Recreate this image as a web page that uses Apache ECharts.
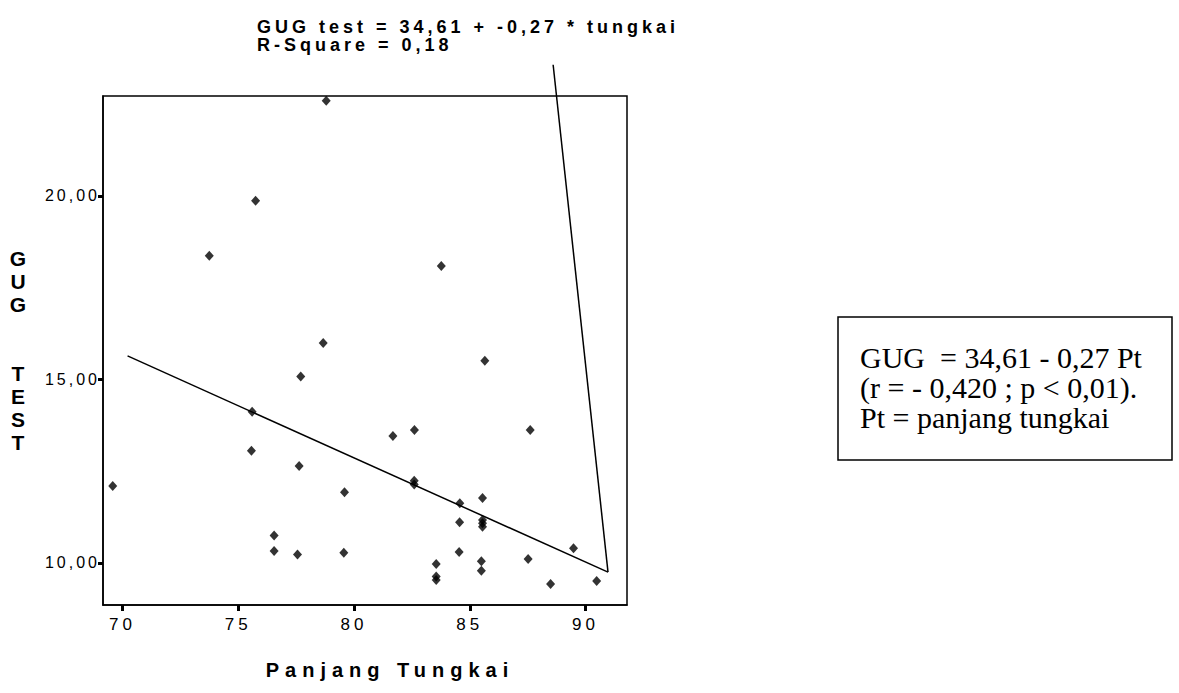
<!DOCTYPE html>
<html>
<head>
<meta charset="utf-8">
<script src="https://cdn.jsdelivr.net/npm/echarts@6/dist/echarts.min.js"></script>
<style>
  html, body { margin: 0; padding: 0; background: #fff; }
  #chart { width: 1179px; height: 693px; }
  #chart text[style*="Liberation Sans"][style*="18px"] { letter-spacing: 4px; }
  #chart text[style*="Liberation Sans"][style*="17px"] { letter-spacing: 4px; }
  #chart text[style*="Liberation Sans"][style*="16px"] { letter-spacing: 3px; }
  #chart text[style*="Liberation Sans"][style*="20px"] { letter-spacing: 6px; }
</style>
</head>
<body>
<div id="chart"></div>
<script>
// ---- data ----
const tungkai = [78.8, 75.75, 73.75, 78.67, 77.7, 83.77, 85.65, 75.6, 75.57, 77.63, 69.58, 79.59, 76.55, 76.55, 77.56, 79.56, 81.68, 82.61, 87.61, 82.6, 82.6, 84.57, 85.55, 84.56, 85.55, 85.55, 85.55, 84.54, 83.55, 83.55, 83.55, 85.5, 85.5, 87.52, 89.48, 88.49, 90.48];
const gugTest = [22.59, 19.87, 18.37, 15.99, 15.08, 18.09, 15.51, 14.12, 13.06, 12.64, 12.1, 11.93, 10.75, 10.33, 10.23, 10.28, 13.46, 13.62, 13.62, 12.24, 12.14, 11.63, 11.77, 11.11, 11.17, 11.08, 10.99, 10.3, 9.97, 9.63, 9.54, 10.05, 9.79, 10.11, 10.4, 9.43, 9.51];
const fitLineX = [70.22, 90.97];
const fitLineY = [15.64, 9.75];
const pointerX = [88.6, 90.97];
const pointerY = [23.57, 9.75];
const xTicks = [70, 75, 80, 85, 90];
const yTicks = [10, 15, 20];
const headerLines = ['GUG test = 34,61 + -0,27 * tungkai', 'R-Square = 0,18'];
const boxLines = ['GUG  = 34,61 - 0,27 Pt', '(r = - 0,420 ; p < 0,01).', 'Pt = panjang tungkai'];

const points = tungkai.map((x, i) => [x, gugTest[i]]);
const fitLine = fitLineX.map((x, i) => [x, fitLineY[i]]);
const pointer = pointerX.map((x, i) => [x, pointerY[i]]);

const SANS = 'Liberation Sans';
const SERIF = '30px "Liberation Serif"';
const chart = echarts.init(document.getElementById('chart'), null, { renderer: 'svg' });
chart.setOption({
  backgroundColor: '#fff',
  animation: false,
  title: {
    text: headerLines.join('\n'),
    left: 252, top: 13,
    textStyle: { fontFamily: SANS, fontSize: 18, fontWeight: 'bold', color: '#000', lineHeight: 18 }
  },
  grid: { left: 103, right: 552, top: 96, bottom: 88, show: true, borderColor: '#000', borderWidth: 1.5, backgroundColor: 'transparent' },
  xAxis: {
    type: 'value', min: 69.16, max: 91.79,
    name: 'Panjang Tungkai', nameLocation: 'middle', nameGap: 55,
    nameTextStyle: { fontFamily: SANS, fontSize: 20, fontWeight: 'bold', color: '#000', padding: [0, 0, 0, 50] },
    axisLine: { show: true, lineStyle: { color: '#000', width: 1.5 } },
    axisTick: { show: true, customValues: xTicks, length: 6, lineStyle: { color: '#000', width: 3 } },
    axisLabel: { customValues: xTicks, margin: 11, fontFamily: SANS, fontSize: 17, color: '#000', formatter: v => String(v) },
    splitLine: { show: false }
  },
  yAxis: {
    type: 'value', min: 8.856, max: 22.72,
    name: 'G\nU\nG\n\n\nT\nE\nS\nT', nameLocation: 'middle', nameRotate: 0, nameGap: 85,
    nameTextStyle: { fontFamily: SANS, fontSize: 21, fontWeight: 'bold', color: '#000', align: 'center', verticalAlign: 'middle', lineHeight: 23, padding: [41, 0, 0, 0] },
    axisLine: { show: true, lineStyle: { color: '#000', width: 1.5 } },
    axisTick: { show: true, customValues: yTicks, length: 5, lineStyle: { color: '#000', width: 3 } },
    axisLabel: { customValues: yTicks, margin: 3, fontFamily: SANS, fontSize: 16, color: '#000', formatter: v => v.toFixed(2).replace('.', ',') },
    splitLine: { show: false }
  },
  series: [
    { type: 'scatter', data: points, symbol: 'diamond', symbolSize: [9, 10], itemStyle: { color: '#000' }, z: 3 },
    { type: 'line', data: fitLine, showSymbol: false, lineStyle: { color: '#000', width: 1.5 }, z: 2 },
    { type: 'line', data: pointer, showSymbol: false, clip: false, lineStyle: { color: '#000', width: 1.5 }, z: 2 }
  ],
  graphic: [
    { type: 'rect', shape: { x: 838, y: 317, width: 334, height: 143 }, style: { fill: 'none', stroke: '#000', lineWidth: 1.5 } },
    { type: 'text', x: 860, y: 357, style: { text: boxLines[0], font: SERIF, fill: '#000', textVerticalAlign: 'middle' } },
    { type: 'text', x: 860, y: 387, style: { text: boxLines[1], font: SERIF, fill: '#000', textVerticalAlign: 'middle' } },
    { type: 'text', x: 860, y: 417, style: { text: boxLines[2], font: SERIF, fill: '#000', textVerticalAlign: 'middle' } }
  ]
});
</script>
</body>
</html>
